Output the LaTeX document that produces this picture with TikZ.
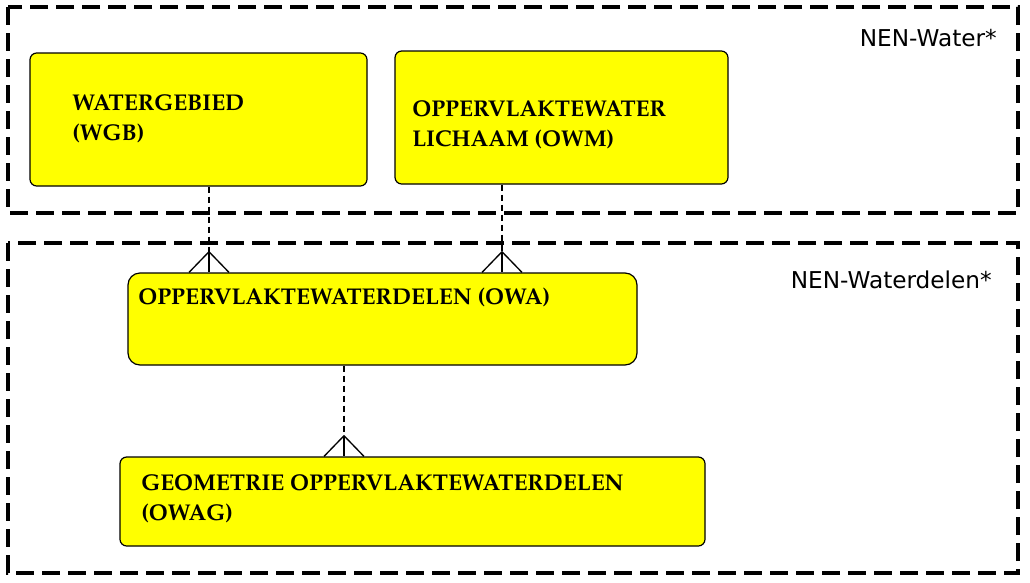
\documentclass[tikz,border=0pt]{standalone}
\usepackage[T1]{fontenc}
\usepackage{fontspec}
\usepackage{xcolor}
\usepackage{tikz}
\usetikzlibrary{positioning, calc}
\definecolor{WBgeel}{RGB}{255,255,0}
\newfontfamily\nenfont{DejaVu Sans}
\newcommand\boxfont{\fontencoding{T1}\fontfamily{ppl}\fontseries{b}\selectfont\fontsize{17.1}{22.3}\selectfont}

\tikzset{
  entity/.style={draw=black, line width=0.9pt, fill=WBgeel, rounded corners=5pt, inner sep=0pt},
  entitytxt/.style={font=\boxfont, align=left, inner sep=0pt, anchor=west},
  domainbox/.style={draw=black, line width=2.5pt, dash pattern=on 13.5pt off 6pt},
  domaintxt/.style={font=\nenfont\fontsize{17.4}{20}\selectfont, inner sep=0pt, anchor=east},
  link/.style={draw=black, line width=0.9pt, dash pattern=on 4.5pt off 3pt},
  foot/.style={draw=black, line width=1pt}
}

\begin{document}
\begin{tikzpicture}[x=0.75pt, y=-0.75pt]
  \useasboundingbox (0,0) rectangle (1030,582);

  % domeinen
  \draw[domainbox] (8,7) rectangle (1018,213);
  \draw[domainbox] (8,243) rectangle (1018,573);
  \node[domaintxt] (nenwater) at (997,38) {NEN-Water*};
  \node[domaintxt] (nendelen) at (992,280) {NEN-Waterdelen*};

  % entiteiten
  \node[entity, minimum width=252.75pt, minimum height=99.75pt] (wgb) at (198.5,119.5) {};
  \node[entity, minimum width=249.75pt, minimum height=99.75pt] (owm) at (561.5,117.5) {};
  \node[entity, rounded corners=9pt, minimum width=381.75pt, minimum height=69pt] (owa) at (382.5,319) {};
  \node[entity, minimum width=438.75pt, minimum height=66.75pt] (owag) at (412.5,501.5) {};

  \node[entitytxt] (wgbtxt) at (72,119) {WATERGEBIED\\(WGB)};
  \node[entitytxt] (owmtxt) at (412,125) {OPPERVLAKTEWATER\\LICHAAM (OWM)};
  \node[entitytxt] (owatxt) at (138,298) {OPPERVLAKTEWATERDELEN (OWA)};
  \node[entitytxt] (owagtxt) at (141,499) {GEOMETRIE OPPERVLAKTEWATERDELEN\\(OWAG)};

  % relaties met kraaienpoot
  \foreach \a/\b/\xx in {wgb/owa/209, owm/owa/502, owa/owag/344}{
    \path (\xx,0) coordinate (xpos);
    \draw[link] (xpos |- \a.south) -- ([yshift=15.5pt]xpos |- \b.north);
    \draw[foot] ([yshift=15.5pt]xpos |- \b.north) coordinate (apex) -- (xpos |- \b.north);
    \draw[foot] ([xshift=-15pt]xpos |- \b.north) -- (apex) -- ([xshift=15pt]xpos |- \b.north);
  }
\end{tikzpicture}
\end{document}
